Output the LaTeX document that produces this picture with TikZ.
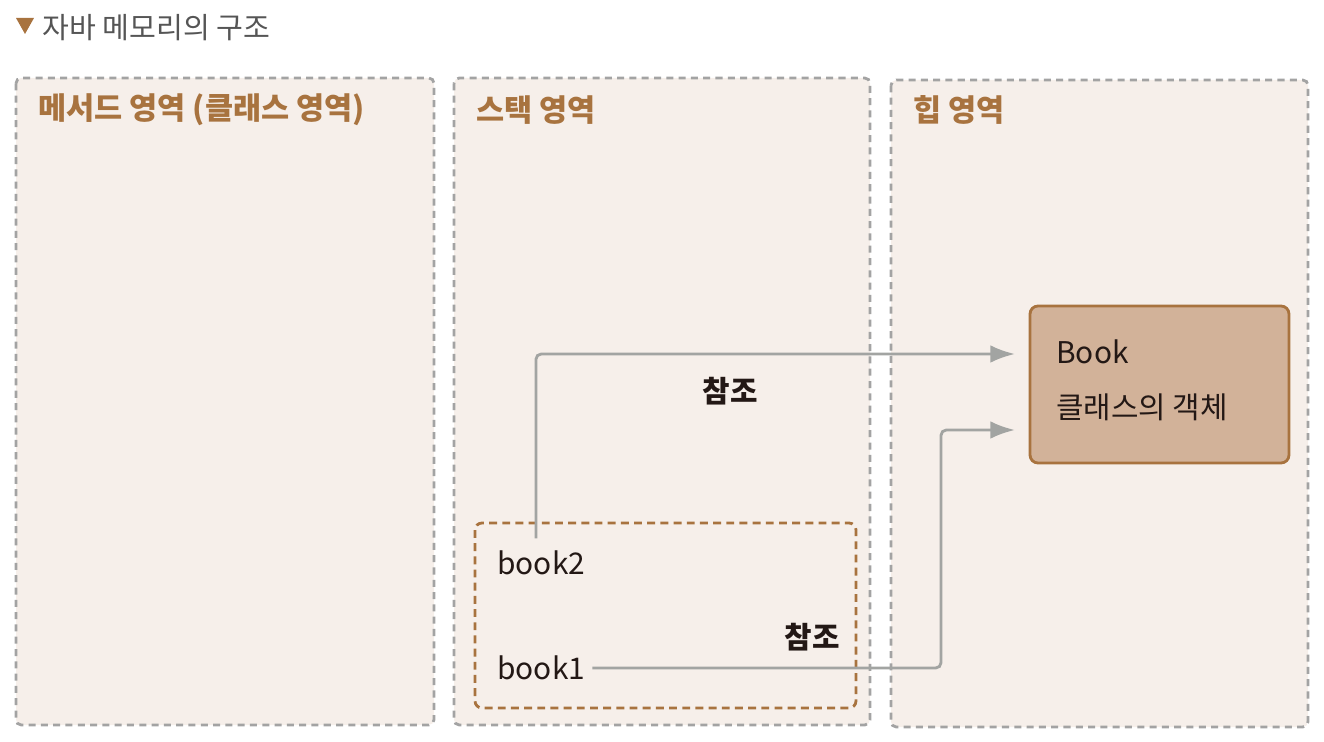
\documentclass[tikz,border=0pt]{standalone}
\usepackage{fontspec}
\setmainfont{Noto Sans CJK KR}
\usetikzlibrary{arrows.meta}
\definecolor{brownline}{HTML}{A8733F}
\definecolor{panelfill}{HTML}{F6EFEA}
\definecolor{objfill}{HTML}{D2B299}
\definecolor{dashgray}{HTML}{A3A3A3}
\definecolor{refgray}{HTML}{A2A4A2}
\definecolor{titlegray}{HTML}{555555}
\definecolor{textdark}{HTML}{231815}
\tikzset{
  >={Latex[length=14pt,width=10pt]},
  panel/.style={draw=dashgray,fill=panelfill,line width=1.6pt,dash pattern=on 4pt off 3pt,rounded corners=3pt},
  stackframe/.style={draw=brownline,line width=1.6pt,dash pattern=on 4.5pt off 3pt,rounded corners=4pt},
  objbox/.style={draw=brownline,fill=objfill,line width=1.6pt,rounded corners=4.5pt,minimum width=5.18cm,minimum height=3.14cm},
  areatitle/.style={anchor=west,inner sep=0pt,font=\fontsize{17.4}{20}\selectfont\bfseries,text=brownline},
  label/.style={anchor=west,inner sep=0pt,font=\fontsize{17}{20}\selectfont,text=textdark},
  reflabel/.style={inner sep=0pt,font=\fontsize{17}{20}\selectfont\bfseries,text=textdark},
  refline/.style={draw=refgray,line width=1.6pt,rounded corners=3pt,->},
}
\begin{document}
\begin{tikzpicture}[x=0.02cm,y=-0.02cm]
    \useasboundingbox (0,0) rectangle (1324,742);
    % title
    \fill[brownline] (16,18)--(34,18)--(25,34)--cycle;
    \node[anchor=west,inner sep=0pt,font=\fontsize{16.6}{19}\selectfont,text=titlegray] (title) at (42,28) {자바 메모리의 구조};
    % memory areas
    \draw[panel] (16,78) rectangle (434,725);
    \draw[panel] (454,78) rectangle (870,725);
    \draw[panel] (891,80) rectangle (1308,727);
    \node[areatitle] (method) at (38,110) {메서드 영역 (클래스 영역)};
    \node[areatitle] (stack) at (476,110) {스택 영역};
    \node[areatitle] (heap) at (913,110) {힙 영역};
    % stack variables
    \draw[stackframe] (475,523) rectangle (856,708);
    \node[label] (book2) at (497,563) {book2};
    \node[label] (book1) at (497,668) {book1};
    % heap object
    \node[objbox] (obj) at (1159.5,384.5) {};
    \node[label] (objname) at (1056,352) {Book};
    \node[label] (objdesc) at (1056,407) {클래스의 객체};
    % references
    \coordinate (in2) at (1015,354);
    \coordinate (in1) at (1015,430);
    \coordinate (bend1) at (941,430);
    \draw[refline] ([xshift=-3pt,yshift=7pt]book2.north) |- (in2);
    \draw[refline] ([xshift=4pt]book1.east) -| (bend1) -- (in1);
    \node[reflabel] (ref2) at (730,391) {참조};
    \node[reflabel] (ref1) at (812,637) {참조};
\end{tikzpicture}
\end{document}
